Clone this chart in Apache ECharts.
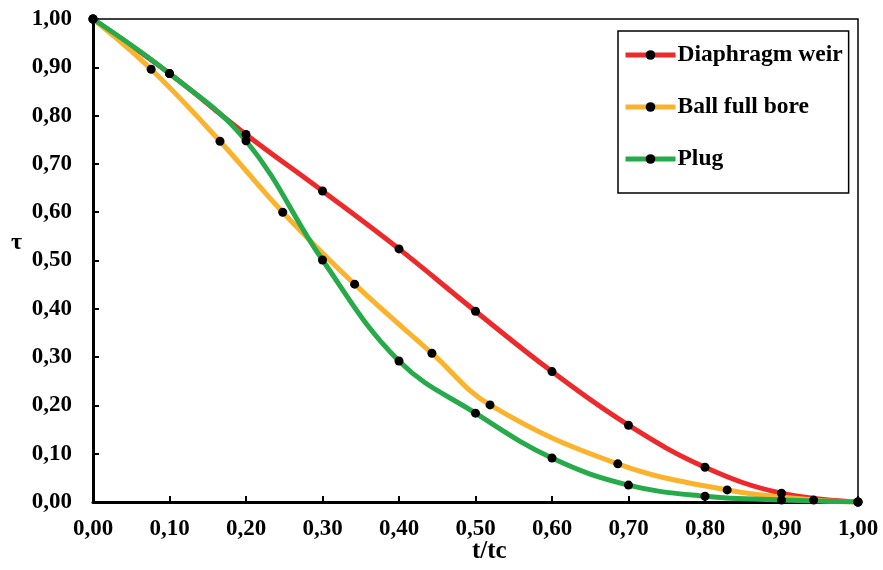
<!DOCTYPE html>
<html>
<head>
<meta charset="utf-8">
<script src="https://cdn.jsdelivr.net/npm/echarts@6/dist/echarts.min.js"></script>
<style>
  html, body { margin: 0; padding: 0; background: #fff; }
  #chart { width: 883px; height: 570px; }
</style>
</head>
<body>
<div id="chart"></div>
<script>
// Dimensionless time t/tc and relative opening tau for three valve types
const diaphragmWeir = [
  [0.00, 1.000], [0.10, 0.887], [0.20, 0.761], [0.30, 0.644], [0.40, 0.524],
  [0.50, 0.395], [0.60, 0.270], [0.70, 0.159], [0.80, 0.072], [0.90, 0.018], [1.00, 0.000]
];
const ballFullBore = [
  [0.000, 1.000], [0.076, 0.896], [0.166, 0.747], [0.248, 0.600], [0.342, 0.451],
  [0.443, 0.308], [0.519, 0.201], [0.686, 0.079], [0.829, 0.025], [0.942, 0.004], [1.000, 0.000]
];
const plug = [
  [0.00, 1.000], [0.10, 0.887], [0.20, 0.748], [0.30, 0.501], [0.40, 0.292],
  [0.50, 0.184], [0.60, 0.091], [0.70, 0.035], [0.80, 0.012], [0.90, 0.004], [1.00, 0.000]
];
const seriesNames = ['Diaphragm weir', 'Ball full bore', 'Plug'];
const seriesColors = ['#EC2A2C', '#FBB22C', '#27AA4A'];

const FONT = '"Liberation Serif", "Times New Roman", serif';
const fmt = v => v.toFixed(2).replace('.', ',');

function makeSeries(name, data, color) {
  return {
    name: name,
    type: 'line',
    data: data,
    smooth: 0.4,
    symbol: 'circle',
    symbolSize: 9,
    lineStyle: { color: color, width: 5 },
    itemStyle: { color: '#000' },
    emphasis: { disabled: true }
  };
}

const chart = echarts.init(document.getElementById('chart'), null, { renderer: 'canvas' });
chart.setOption({
  animation: false,
  backgroundColor: '#fff',
  grid: {
    left: 93, right: 25, top: 19, bottom: 68,
    show: true, borderColor: '#000', borderWidth: 1.5, backgroundColor: 'transparent'
  },
  legend: {
    orient: 'vertical',
    left: 618, top: 31,
    padding: [12, 6, 22, 5],
    itemGap: 28,
    itemWidth: 50,
    itemHeight: 12,
    borderColor: '#000',
    borderWidth: 1.5,
    backgroundColor: '#fff',
    lineStyle: { width: 5 },
    textStyle: { fontFamily: FONT, fontWeight: 'bold', fontSize: 23.5, color: '#000', padding: [0, 0, 0, -3] },
    data: seriesNames
  },
  graphic: [{
    type: 'text',
    left: 472, top: 539,
    style: { text: 't/tc', font: 'bold 25px ' + FONT, fill: '#000' }
  }, {
    type: 'text',
    left: 11, top: 231,
    style: { text: 'τ', font: 'bold 24px ' + FONT, fill: '#000' }
  }],
  xAxis: {
    type: 'value',
    min: 0, max: 1, interval: 0.1,
    axisLine: { show: true, onZero: false, lineStyle: { color: '#000', width: 3 } },
    axisTick: { show: true, inside: true, length: 6, lineStyle: { color: '#000', width: 2 } },
    axisLabel: { fontFamily: FONT, fontWeight: 'bold', fontSize: 23, color: '#000', margin: 16, formatter: fmt },
    splitLine: { show: false }
  },
  yAxis: {
    type: 'value',
    min: 0, max: 1, interval: 0.1,
    axisLine: { show: true, onZero: false, lineStyle: { color: '#000', width: 3 } },
    axisTick: { show: true, inside: true, length: 6, lineStyle: { color: '#000', width: 2 } },
    axisLabel: { fontFamily: FONT, fontWeight: 'bold', fontSize: 23, color: '#000', margin: 21, formatter: fmt },
    splitLine: { show: false }
  },
  series: [
    makeSeries(seriesNames[0], diaphragmWeir, seriesColors[0]),
    makeSeries(seriesNames[1], ballFullBore, seriesColors[1]),
    makeSeries(seriesNames[2], plug, seriesColors[2])
  ]
});
</script>
</body>
</html>
